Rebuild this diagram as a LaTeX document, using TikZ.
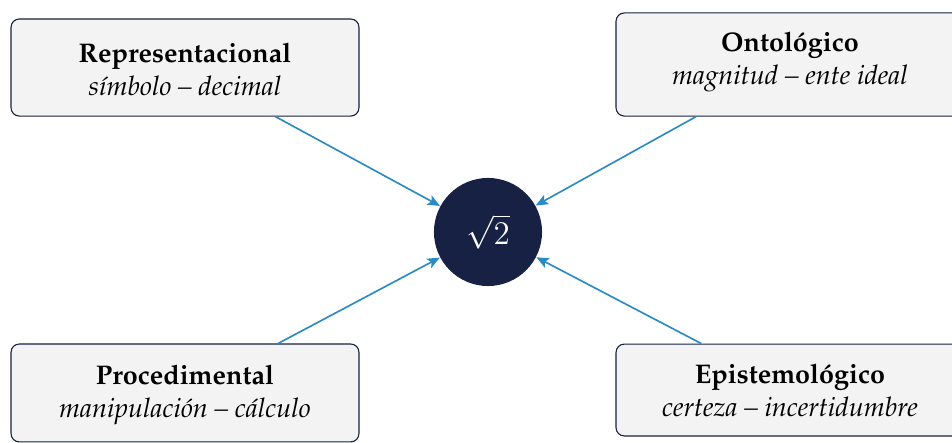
\documentclass[tikz,border=0pt]{standalone}
\usepackage[T1]{fontenc}
\renewcommand{\rmdefault}{ppl}
\usetikzlibrary{arrows.meta}
\definecolor{navy}{HTML}{172143}
\definecolor{boxfill}{HTML}{F3F3F4}
\definecolor{arrowblue}{HTML}{2B8AC2}
\begin{document}
\begin{tikzpicture}[x=0.3636pt,y=-0.3636pt,
  facet/.style={draw=navy, line width=0.4pt, fill=boxfill, rounded corners=3pt,
    minimum width=126.5pt, inner sep=0pt, align=center, anchor=base,
    font=\fontsize{9.8}{12}\selectfont},
  core/.style={circle, fill=navy, minimum size=39.3pt, inner sep=0pt, text=white,
    font=\fontsize{12}{14}\selectfont},
  link/.style={draw=arrowblue, line width=0.6pt,
    -{Stealth[length=4.5pt,width=3.8pt,inset=1pt]}}]
\useasboundingbox (0,0) rectangle (952,443);
\node[core] (c) at (488,232) {$\sqrt{2}$};
\node[facet, text height=28pt, text depth=7.3pt] (rep) at (185,96)
  {\textbf{Representacional}\\\textit{s\'{\i}mbolo -- decimal}};
\node[facet, text height=26.2pt, text depth=11.3pt] (ont) at (790,85)
  {\textbf{Ontol\'ogico}\\\textit{magnitud -- ente ideal}};
\node[facet, text height=26.9pt, text depth=8.7pt] (pro) at (185,418)
  {\textbf{Procedimental}\\\textit{manipulaci\'on -- c\'alculo}};
\node[facet, text height=26.5pt, text depth=6.9pt] (epi) at (790,417)
  {\textbf{Epistemol\'ogico}\\\textit{certeza -- incertidumbre}};
\draw[link] (rep) -- (c);
\draw[link] (ont) -- (c);
\draw[link] (pro) -- (c);
\draw[link] (epi) -- (c);
\end{tikzpicture}
\end{document}
